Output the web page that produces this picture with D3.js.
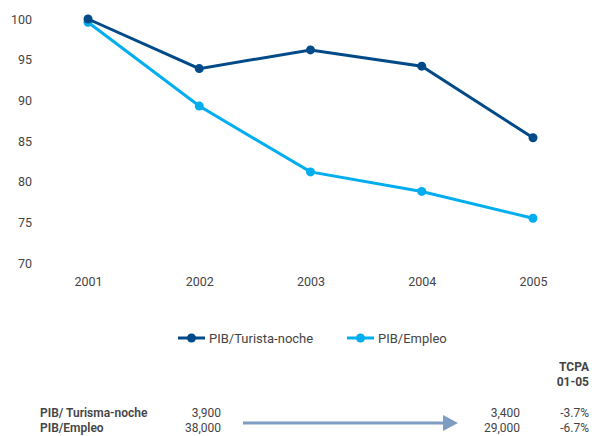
<!DOCTYPE html>
<html>
<head>
<meta charset="utf-8">
<script src="https://cdn.jsdelivr.net/npm/d3@7"></script>
<style>
  body { margin: 0; background: #fff; }
  text { font-family: Roboto, "Noto Sans", sans-serif; fill: #444; }
</style>
</head>
<body>
<div id="chart"></div>
<script>
// data
const years = ["2001", "2002", "2003", "2004", "2005"];
const turistaNoche = [100, 93.9, 96.2, 94.2, 85.4];
const empleo = [99.6, 89.3, 81.2, 78.8, 75.5];
const yTicks = [70, 75, 80, 85, 90, 95, 100];

const tableRows = ["PIB/ Turisma-noche", "PIB/Empleo"];
const startValues = ["3,900", "38,000"];
const endValues = ["3,400", "29,000"];
const tcpaValues = ["-3.7%", "-6.7%"];

const width = 606, height = 436;
const darkBlue = "#004b87", lightBlue = "#00aeef";

const svg = d3.select("#chart")
    .append("svg")
    .attr("width", width)
    .attr("height", height);

// scales
const x = d3.scalePoint()
    .domain(years)
    .range([88, 533]);
const y = d3.scaleLinear()
    .domain([70, 100])
    .range([263, 19]);

// y axis (labels only)
const yAxis = d3.axisLeft(y).tickValues(yTicks).tickSize(0).tickPadding(0);
svg.append("g")
    .attr("transform", "translate(32,0)")
    .call(yAxis)
    .call(g => g.select(".domain").remove())
    .selectAll("text")
    .attr("font-size", 12.5)
    .style("fill", "#444");

// x axis (labels only)
const xAxis = d3.axisBottom(x).tickSize(0).tickPadding(0);
svg.append("g")
    .attr("transform", "translate(0,277)")
    .call(xAxis)
    .call(g => g.select(".domain").remove())
    .selectAll("text")
    .attr("font-size", 12.5)
    .style("fill", "#444");

const line = d3.line()
    .x((d, i) => x(years[i]))
    .y(d => y(d));

const series = [
    { name: "PIB/Turista-noche", values: turistaNoche, color: darkBlue },
    { name: "PIB/Empleo", values: empleo, color: lightBlue }
];

// draw light series first so dark sits on top at 2001
[...series].reverse().forEach(s => {
    svg.append("path")
        .datum(s.values)
        .attr("d", line)
        .attr("fill", "none")
        .attr("stroke", s.color)
        .attr("stroke-width", 3);
    svg.selectAll(null)
        .data(s.values)
        .join("circle")
        .attr("cx", (d, i) => x(years[i]))
        .attr("cy", d => y(d))
        .attr("r", 4.5)
        .attr("fill", s.color);
});

// legend
const legendX = [178, 347];
series.forEach((s, i) => {
    const g = svg.append("g").attr("transform", `translate(${legendX[i]},338)`);
    g.append("line")
        .attr("x1", 0).attr("x2", 27)
        .attr("stroke", s.color)
        .attr("stroke-width", 3);
    g.append("circle")
        .attr("cx", 13.5).attr("r", 4.5)
        .attr("fill", s.color);
    g.append("text")
        .attr("x", 31)
        .attr("dy", "0.35em")
        .attr("font-size", 13)
        .text(s.name);
});

// table
const head = svg.append("g").attr("font-weight", "bold").attr("font-size", 12);
head.append("text").attr("x", 589).attr("y", 371).attr("text-anchor", "end").text("TCPA");
head.append("text").attr("x", 589).attr("y", 386).attr("text-anchor", "end").text("01-05");

const rowY = [417, 432];
tableRows.forEach((label, i) => {
    svg.append("text").attr("x", 40).attr("y", rowY[i])
        .attr("font-size", 12).attr("font-weight", 600).text(label);
    svg.append("text").attr("x", 221).attr("y", rowY[i])
        .attr("font-size", 12).attr("text-anchor", "end").text(startValues[i]);
    svg.append("text").attr("x", 520).attr("y", rowY[i])
        .attr("font-size", 12).attr("text-anchor", "end").text(endValues[i]);
    svg.append("text").attr("x", 589).attr("y", rowY[i])
        .attr("font-size", 12).attr("text-anchor", "end").text(tcpaValues[i]);
});

// arrow
svg.append("line")
    .attr("x1", 243).attr("x2", 445)
    .attr("y1", 423).attr("y2", 423)
    .attr("stroke", "#7f9dc2")
    .attr("stroke-width", 3);
svg.append("path")
    .attr("d", "M443,415 L458,423 L443,431 Z")
    .attr("fill", "#7f9dc2");
</script>
</body>
</html>
